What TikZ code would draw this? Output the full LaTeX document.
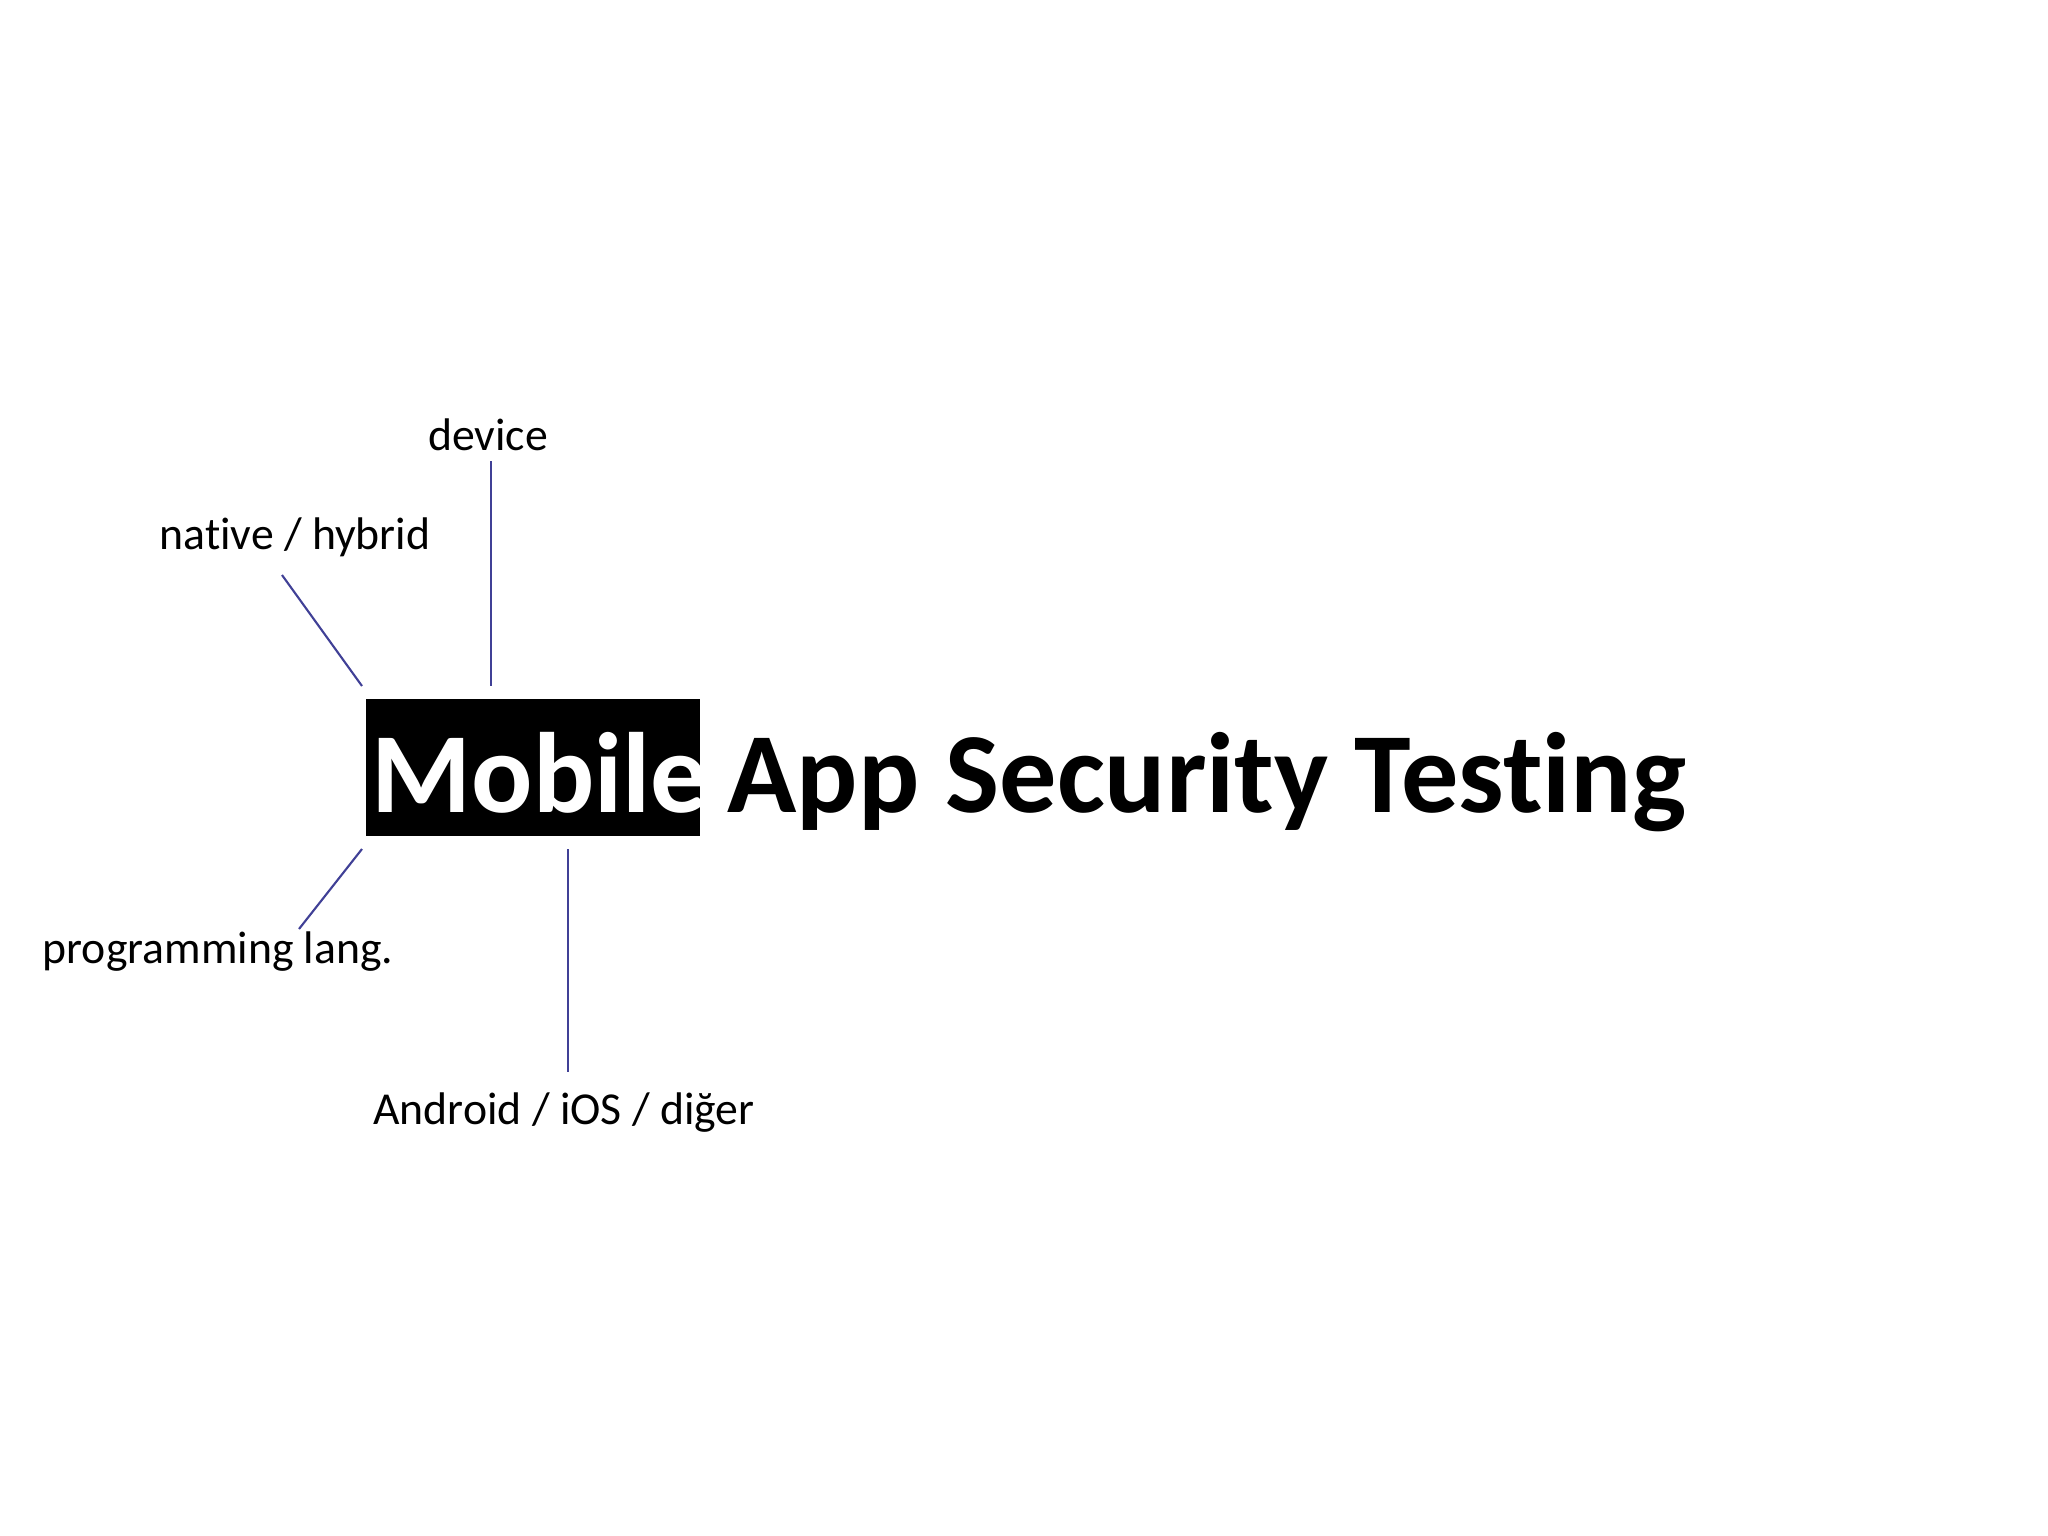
\documentclass[tikz,border=0pt]{standalone}
\usepackage{fontspec}
\setmainfont[Ligatures={NoCommon}]{Carlito}
\begin{document}
\begin{tikzpicture}[x=0.01cm,y=-0.01cm,
  lbl/.style={font=\fontsize{13}{15}\selectfont, text=black, inner sep=0pt},
  ttl/.style={font=\fontsize{32.5}{38}\selectfont\bfseries, inner sep=0pt},
  link/.style={draw=blue!45!black!75!white, line width=0.6pt}]
\useasboundingbox (0,0) rectangle (2048,1536);
\node (mob) [fill=black, minimum width=3.34cm, minimum height=1.37cm, inner sep=0pt] at (533,767.5) {};
\node[ttl, text=white, anchor=base west] (mobt) at (371,812) {Mobile};
\node[ttl, anchor=base west] (title) at (727,812) {App Security Testing};
\node[lbl] (dev) at (488,435) {device};
\node[lbl] (nat) at (295,537) {native / hybrid};
\node[lbl] (prog) at (218,952) {programming lang.};
\node[lbl] (and) at (564,1113) {Android / iOS / diğer};
\coordinate (d1) at (491,461); \coordinate (d2) at (491,686);
\coordinate (n1) at (282,575); \coordinate (n2) at (362,686);
\coordinate (p1) at (362,849); \coordinate (p2) at (299,929);
\coordinate (a1) at (568,849); \coordinate (a2) at (568,1072);
\draw[link] (d1) -- (d2);
\draw[link] (n1) -- (n2);
\draw[link] (p1) -- (p2);
\draw[link] (a1) -- (a2);
\end{tikzpicture}
\end{document}
